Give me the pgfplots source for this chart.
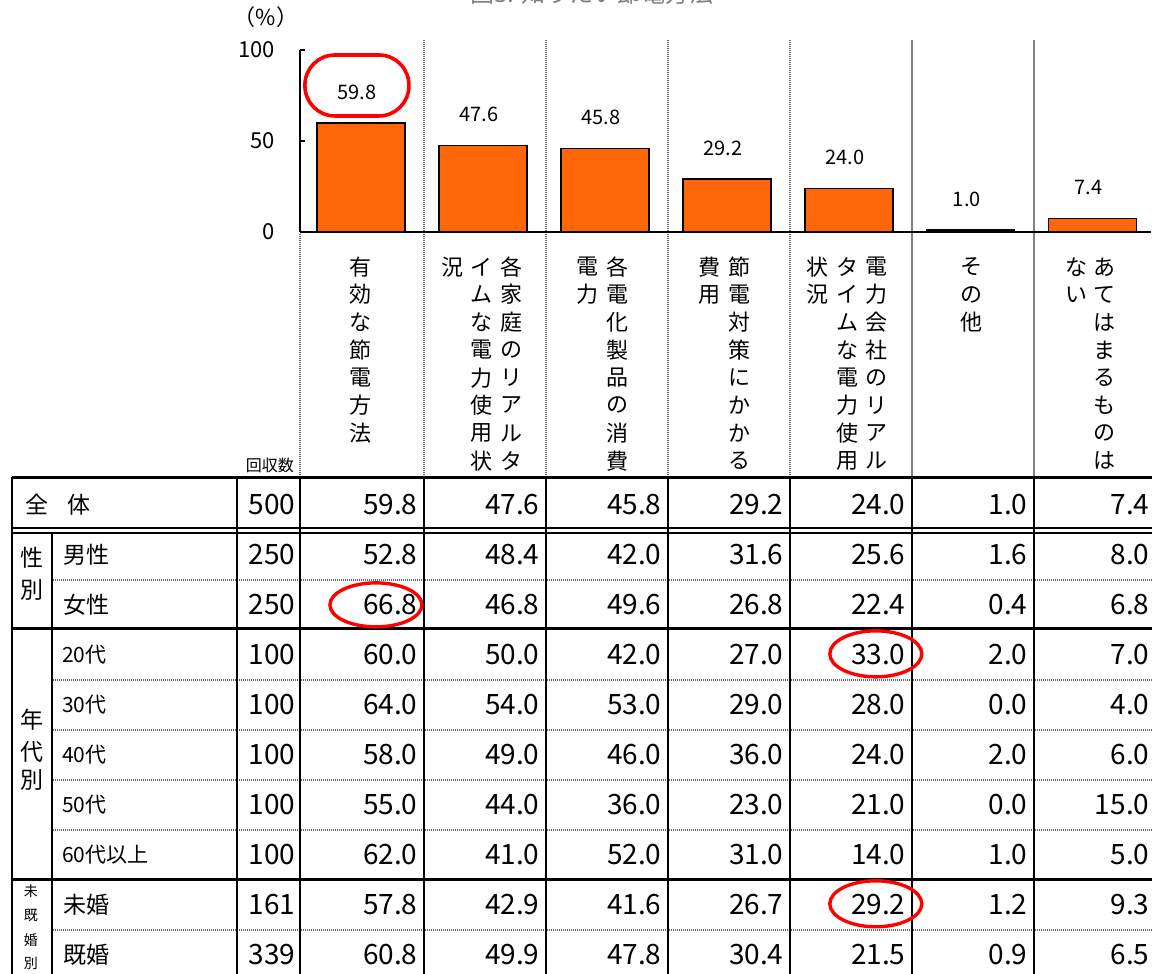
\documentclass[border=0pt]{standalone}
\usepackage{fontspec}
\setmainfont{Noto Sans CJK JP}
\usepackage{pgfplots}
\pgfplotsset{compat=1.18}
\definecolor{barorange}{RGB}{255,102,8}
\definecolor{sepgray}{RGB}{100,100,100}
\newcommand{\numf}{\fontsize{14}{16}\selectfont}
\newcommand{\rlf}{\fontsize{11.5}{13}\selectfont}
\newcommand{\agef}{\fontsize{10.5}{12}\selectfont}
\newcommand{\vtf}{\fontsize{11}{13}\selectfont}
\begin{document}
\begin{tikzpicture}
\begin{scope}[x=0.5pt,y=-0.5pt]
\useasboundingbox (0,0) rectangle (1152,974);
% title (cut off at top, as in the reference)
\node[text=gray, font=\fontsize{12}{14}\selectfont, anchor=base] at (592,3) {図3. 知りたい節電方法};
\node[font=\fontsize{11}{13}\selectfont] at (266,17) {（\%）};
% header verticals
\foreach \x in {424,546,668,790}
  \draw[sepgray, line width=1pt, dash pattern=on 0.5pt off 0.5pt] (\x,40) -- (\x,478);
\draw[sepgray, line width=1pt, dash pattern=on 0.5pt off 0.5pt] (300,234) -- (300,478);
\foreach \x in {912,1034}
  \draw[sepgray!80, line width=1pt] (\x,40) -- (\x,478);
% vertical category labels
\newcommand{\vcol}[2]{\foreach \c [count=\i from 0] in {#2} \node[font=\vtf, inner sep=0pt] at (#1,{267+27.7*\i}) {\c};}
\vcol{361}{有,効,な,節,電,方,法}
\vcol{512}{各,家,庭,の,リ,ア,ル,タ}
\vcol{482}{イ,ム,な,電,力,使,用,状}
\vcol{453}{況}
\vcol{618}{各,電,化,製,品,の,消,費}
\vcol{588}{電,力}
\vcol{740}{節,電,対,策,に,か,か,る}
\vcol{710}{費,用}
\vcol{877}{電,力,会,社,の,リ,ア,ル}
\vcol{848}{タ,イ,ム,な,電,力,使,用}
\vcol{818}{状,況}
\vcol{972}{そ,の,他}
\vcol{1105}{あ,て,は,ま,る,も,の,は}
\vcol{1077}{な,い}
\node[font=\fontsize{8}{10}\selectfont] at (270,466) {回収数};
% table lines
\draw[line width=1.4pt] (12,478) -- (1160,478);
\draw[line width=0.8pt] (12,528) -- (1160,528);
\draw[line width=0.8pt] (12,533) -- (1160,533);
\draw[line width=1.4pt] (12,629) -- (1160,629);
\draw[line width=1.4pt] (12,880) -- (1160,880);
\foreach \y in {580,680,730,780,830,930}
  \draw[sepgray, line width=1pt, dash pattern=on 0.5pt off 0.5pt] (53,\y) -- (1160,\y);
\draw[line width=1pt] (12,477) -- (12,980);
\draw[line width=1pt] (52,533) -- (52,980);
\draw[line width=1pt] (237,477) -- (237,980);
\draw[line width=1pt] (300,477) -- (300,980);
\foreach \x in {424,546,668,790,912,1034}
  \draw[line width=0.9pt] (\x,477) -- (\x,980);
% row labels
\node[anchor=west, font=\rlf] at (18,505) {全\hspace{0.85em}体};
\node[anchor=west, font=\rlf] at (56,555) {男性};
\node[anchor=west, font=\rlf] at (56,605) {女性};
\node[anchor=west, font=\agef] at (55,655) {20代};
\node[anchor=west, font=\agef] at (55,705) {30代};
\node[anchor=west, font=\agef] at (55,755) {40代};
\node[anchor=west, font=\agef] at (55,805) {50代};
\node[anchor=west, font=\agef] at (55,855) {60代以上};
\node[anchor=west, font=\rlf] at (56,905) {未婚};
\node[anchor=west, font=\rlf] at (56,955) {既婚};
% group labels
\node[font=\rlf] at (32,558) {性};
\node[font=\rlf] at (32,590) {別};
\node[font=\rlf] at (32,720) {年};
\node[font=\rlf] at (32,752) {代};
\node[font=\rlf] at (32,780) {別};
\foreach \c/\y in {未/891,既/916,婚/940,別/964}
  \node[font=\fontsize{7}{8}\selectfont] at (31,\y) {\c};
% table numbers
\foreach \yc/\vals in {
  505/{500,59.8,47.6,45.8,29.2,24.0,1.0,7.4},
  555/{250,52.8,48.4,42.0,31.6,25.6,1.6,8.0},
  605/{250,66.8,46.8,49.6,26.8,22.4,0.4,6.8},
  655/{100,60.0,50.0,42.0,27.0,33.0,2.0,7.0},
  705/{100,64.0,54.0,53.0,29.0,28.0,0.0,4.0},
  755/{100,58.0,49.0,46.0,36.0,24.0,2.0,6.0},
  805/{100,55.0,44.0,36.0,23.0,21.0,0.0,15.0},
  855/{100,62.0,41.0,52.0,31.0,14.0,1.0,5.0},
  905/{161,57.8,42.9,41.6,26.7,29.2,1.2,9.3},
  955/{339,60.8,49.9,47.8,30.4,21.5,0.9,6.5}} {
  \foreach \v [count=\i] in \vals
    \node[anchor=base east, font=\numf, inner sep=0pt] at ({174+122*\i},{\yc+10}) {\v};
}
% red highlights
\draw[red, line width=1.8pt, rounded corners=15pt] (305,55) rectangle (409,116);
\draw[red, line width=1.7pt] (376,605) ellipse [x radius=23pt, y radius=11pt];
\draw[red, line width=1.7pt] (876,654) ellipse [x radius=23pt, y radius=11.5pt];
\draw[red, line width=1.7pt] (876,904) ellipse [x radius=23pt, y radius=11.5pt];
\end{scope}
\begin{axis}[
  at={(150pt,-116pt)}, anchor=south west,
  x=61pt, y=0.91pt,
  xmin=-0.5, xmax=6.48, ymin=0, ymax=100,
  axis x line*=bottom, axis y line*=left,
  axis line style={black, line width=0.7pt},
  xtick=\empty, ytick={0,50,100},
  tick align=inside, major tick length=2.5pt,
  tick style={black, line width=0.7pt},
  /pgf/number format/assume math mode=true,
  yticklabel style={font=\fontsize{11}{13}\selectfont, xshift=-9pt},
  ybar, bar width=44pt, clip=false,
  nodes near coords, point meta=explicit symbolic,
  every node near coord/.append style={font=\fontsize{10}{12}\selectfont, yshift=8pt, xshift=-2pt},
]
\addplot[fill=barorange, draw=black, line width=0.7pt] coordinates {
  (0,59.8)[59.8] (1,47.6)[47.6] (2,45.8)[45.8] (3,29.2)[29.2]
  (4,24.0)[24.0] (5,1.0)[1.0] (6,7.4)[7.4]};
\end{axis}
\end{tikzpicture}
\end{document}
